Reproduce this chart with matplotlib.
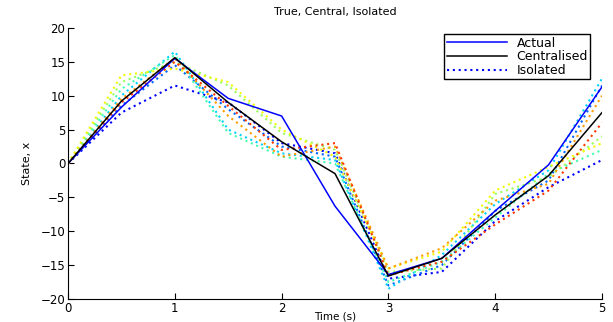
import matplotlib
matplotlib.use("Agg")
import matplotlib.pyplot as plt
import numpy as np

t = [0, 0.5, 1, 1.5, 2, 2.5, 3, 3.5, 4, 4.5, 5]

actual      = [0, 8.3, 15.5, 9.6, 7.0, -6.3, -16.4, -14.0, -7.0, -0.2, 11.3]
centralised = [0, 9.2, 15.6, 9.0, 3.2, -1.5, -16.6, -14.0, -7.6, -1.8, 7.5]

# isolated estimates, one per node
isolated = [
    [0, 7.5, 11.5, 9.0, 3.0, 1.5, -17.0, -16.0, -8.5, -3.5, 0.5],
    [0, 8.5, 14.5, 8.0, 2.5, 1.0, -18.0, -15.0, -7.0, -2.5, 11.5],
    [0, 10.0, 16.5, 5.0, 1.5, 0.5, -18.5, -13.5, -6.0, -1.0, 12.5],
    [0, 11.0, 16.0, 4.5, 1.0, 0.0, -17.5, -14.5, -8.0, -1.5, 2.0],
    [0, 12.0, 15.0, 11.5, 4.5, 2.0, -16.0, -15.5, -4.5, -2.0, 4.0],
    [0, 13.0, 14.0, 12.0, 5.0, 1.0, -15.5, -13.0, -4.0, -0.5, 3.0],
    [0, 9.5, 15.5, 7.0, 1.0, 2.5, -15.5, -12.5, -5.5, -3.0, 10.0],
    [0, 9.0, 15.0, 8.5, 2.0, 3.0, -16.5, -14.5, -9.0, -4.0, 6.0],
]

plt.rcParams['font.family'] = ['DejaVu Sans']
plt.rcParams['font.size'] = 8

fig = plt.figure(figsize=(6.13, 3.22), dpi=100)
ax = fig.add_axes([0.111, 0.0714, 0.871, 0.842])

cols = plt.cm.jet(np.linspace(0.12, 0.85, len(isolated)))
hiso = None
for i, s in enumerate(isolated):
    h, = ax.plot(t, s, linestyle=(0, (1, 1.8)), lw=1.5, color=cols[i])
    if i == 0:
        hiso = h
ha, = ax.plot(t, actual, color='#0000ff', lw=1.1)
hc, = ax.plot(t, centralised, color='black', lw=1.1)

ax.set_xlim(0, 5)
ax.set_ylim(-20, 20)
ax.set_xticks([0, 1, 2, 3, 4, 5])
ax.set_yticks([-20, -15, -10, -5, 0, 5, 10, 15, 20])
ax.spines['top'].set_visible(False)
ax.spines['right'].set_visible(False)
ax.tick_params(direction='in', length=4, labelsize=8.5, pad=2)
ax.set_title("True, Central, Isolated", fontsize=8, pad=9)
ax.set_xlabel("Time (s)", fontsize=7.5, va='top')
ax.xaxis.set_label_coords(0.5, -0.047)
ax.set_ylabel("State, x", fontsize=8, labelpad=6)

leg = ax.legend([ha, hc, hiso], ["Actual", "Centralised", "Isolated"],
                loc='upper right', bbox_to_anchor=(0.99, 1.0), fontsize=9,
                fancybox=False, framealpha=1, edgecolor='black',
                handlelength=4.8, borderpad=0.2, labelspacing=0.05)
leg.get_frame().set_linewidth(1)

fig.savefig("out.png", dpi=100)
